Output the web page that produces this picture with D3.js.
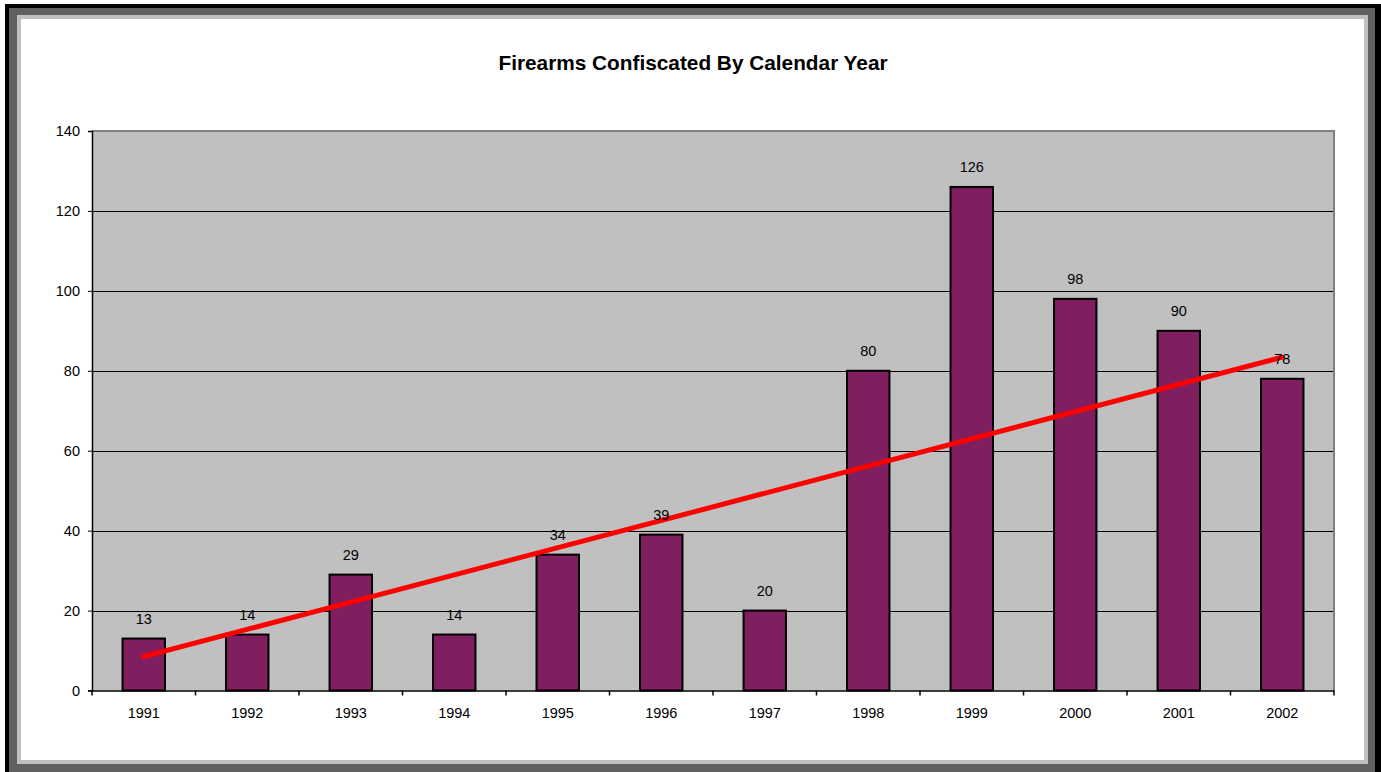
<!DOCTYPE html>
<html>
<head>
<meta charset="utf-8">
<script src="https://cdn.jsdelivr.net/npm/d3@7"></script>
<style>
  html, body { margin: 0; padding: 0; background: #ffffff; }
  svg { display: block; }
  text { font-family: "Liberation Sans", Arial, sans-serif; }
</style>
</head>
<body>
<svg id="chart" width="1381" height="772"></svg>
<script>
const years = ["1991","1992","1993","1994","1995","1996","1997","1998","1999","2000","2001","2002"];
const counts = [13, 14, 29, 14, 34, 39, 20, 80, 126, 98, 90, 78];
const yTicks = [0, 20, 40, 60, 80, 100, 120, 140];
const trendValues = [8.5, 83.4]; // trend line values at first and last year
const chartTitle = "Firearms Confiscated By Calendar Year";

(function () {
const svg = d3.select("#chart");
const W = 1381, H = 772;

// frame
svg.append("rect").attr("x", 5).attr("y", 4).attr("width", W - 5).attr("height", H - 4).attr("fill", "#000000");
svg.append("rect").attr("x", 9).attr("y", 8).attr("width", 1375 - 9).attr("height", H - 8).attr("fill", "#606060");
svg.append("rect").attr("x", 17).attr("y", 15).attr("width", 1368 - 17).attr("height", 764 - 15).attr("fill", "#c0c0c0");
svg.append("rect").attr("x", 21).attr("y", 19).attr("width", 1364 - 21).attr("height", 760 - 19).attr("fill", "#ffffff");

const pLeft = 92, pRight = 1334, pTop = 131, pBottom = 690.5;

const x = d3.scaleBand().domain(years).range([pLeft, pRight]).paddingInner(0.59).paddingOuter(0.295);
const xCat = d3.scaleBand().domain(years).range([pLeft, pRight]);
const y = d3.scaleLinear().domain([0, 140]).range([pBottom, pTop]);

// plot background
svg.append("rect").attr("x", pLeft).attr("y", pTop).attr("width", pRight - pLeft).attr("height", pBottom - pTop)
  .attr("fill", "#c0c0c0");

// gridlines
svg.append("g").selectAll("line").data(yTicks.filter(d => d > 0 && d < 140)).join("line")
  .attr("x1", pLeft).attr("x2", pRight)
  .attr("y1", d => Math.round(y(d)) + 0.5).attr("y2", d => Math.round(y(d)) + 0.5)
  .attr("stroke", "#000000").attr("stroke-width", 1);

// plot border top/right
svg.append("path")
  .attr("d", `M${pLeft},${pTop} L${pRight},${pTop} L${pRight},${pBottom}`)
  .attr("fill", "none").attr("stroke", "#808080").attr("stroke-width", 2);

// bars
svg.append("g").selectAll("rect").data(counts).join("rect")
  .attr("x", (d, i) => x(years[i]))
  .attr("y", d => y(d))
  .attr("width", x.bandwidth())
  .attr("height", d => pBottom - y(d))
  .attr("fill", "#7f1f5f")
  .attr("stroke", "#000000").attr("stroke-width", 2);

// y axis
const yAxis = d3.axisLeft(y).tickValues(yTicks).tickSize(4).tickPadding(8);
const gy = svg.append("g").attr("transform", `translate(${pLeft},0)`).call(yAxis);
gy.select(".domain").attr("stroke", "#000").attr("stroke-width", 1.5);
gy.selectAll(".tick line").attr("stroke", "#000");
gy.selectAll("text").attr("font-size", 14.5).attr("fill", "#000")
  .attr("font-family", "'Liberation Sans', Arial, sans-serif");

// x axis
const xAxis = d3.axisBottom(xCat).tickSize(0).tickPadding(17);
const gx = svg.append("g").attr("transform", `translate(0,${pBottom})`).call(xAxis);
gx.select(".domain").attr("stroke", "#000").attr("stroke-width", 1.5);
gx.selectAll("text").attr("font-size", 14.5).attr("fill", "#000")
  .attr("font-family", "'Liberation Sans', Arial, sans-serif");
// category boundary ticks
const bounds = years.map(yr => xCat(yr)).concat([pRight]);
svg.append("g").selectAll("line").data(bounds).join("line")
  .attr("x1", d => d).attr("x2", d => d)
  .attr("y1", pBottom).attr("y2", pBottom + 5)
  .attr("stroke", "#000").attr("stroke-width", 1.5);

// trend line
const cx = yr => xCat(yr) + xCat.bandwidth() / 2;
svg.append("line")
  .attr("x1", cx(years[0])).attr("y1", y(trendValues[0]))
  .attr("x2", cx(years[years.length - 1])).attr("y2", y(trendValues[1]))
  .attr("stroke", "#ff0000").attr("stroke-width", 5).attr("stroke-linecap", "round");

// value labels
svg.append("g").selectAll("text").data(counts).join("text")
  .attr("x", (d, i) => cx(years[i]))
  .attr("y", d => y(d) - 15)
  .attr("text-anchor", "middle")
  .attr("font-size", 14.5).attr("fill", "#000")
  .text(d => d);

// title
svg.append("text").attr("x", 693).attr("y", 70).attr("text-anchor", "middle")
  .attr("font-size", 20.8).attr("font-weight", "bold").attr("fill", "#000")
  .text(chartTitle);
})();
</script>
</body>
</html>
